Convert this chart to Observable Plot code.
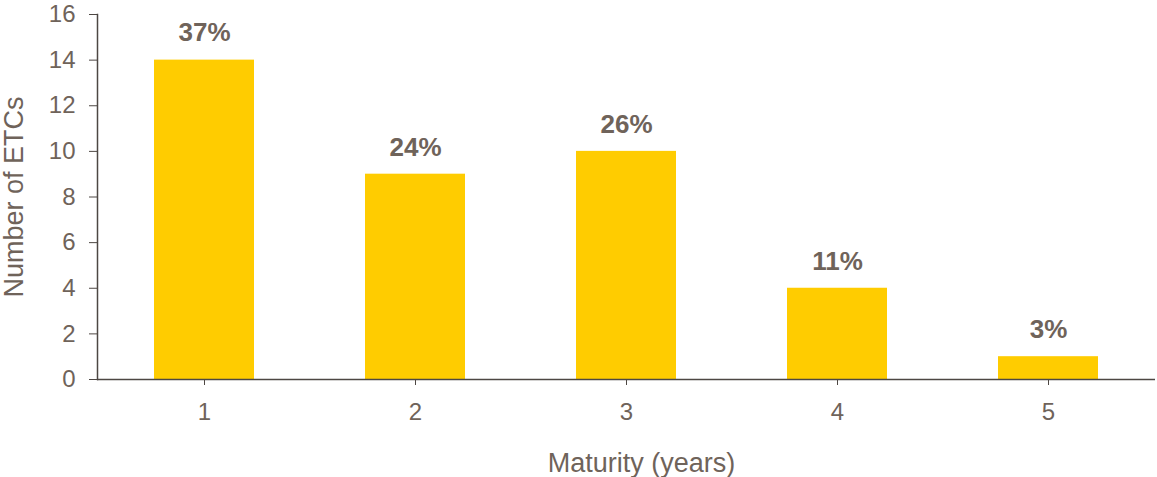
<!DOCTYPE html>
<html>
<head>
<meta charset="utf-8">
<script src="https://cdn.jsdelivr.net/npm/d3@7"></script>
<script src="https://cdn.jsdelivr.net/npm/@observablehq/plot@0.6"></script>
<style>
  html, body { margin: 0; padding: 0; background: #fff; }
</style>
</head>
<body>
<div id="chart"></div>
<script>
const maturities = [1, 2, 3, 4, 5];
const counts = [14, 9, 10, 4, 1];
const shares = ["37%", "24%", "26%", "11%", "3%"];
const yTicks = [0, 2, 4, 6, 8, 10, 12, 14, 16];
const xTitle = "Maturity (years)";
const yTitle = "Number of ETCs";

const data = maturities.map((m, i) => ({maturity: m, count: counts[i], share: shares[i]}));

const textColor = "#6f635a";
const axisColor = "#4d4743";

const chart = Plot.plot({
  width: 1157,
  height: 477,
  marginLeft: 97,
  marginRight: 2,
  marginTop: 14,
  marginBottom: 98,
  style: {fontFamily: "'Liberation Sans', Arial, sans-serif", fontSize: "24px", color: textColor, background: "#fff"},
  x: {domain: maturities, paddingInner: 0.527, paddingOuter: 0.2635, align: 0.5},
  y: {domain: [0, 16]},
  marks: [
    Plot.barY(data, {x: "maturity", y: "count", fill: "#FFCC00"}),
    Plot.text(data, {x: "maturity", y: "count", text: "share", dy: -27, fill: textColor, fontWeight: "bold", fontSize: 26}),
    Plot.ruleY([0], {stroke: axisColor, strokeWidth: 1.5}),
    Plot.axisY({ticks: yTicks, tickSize: 8, tickPadding: 14, stroke: axisColor, fill: textColor, fontSize: 24, label: null}),
    Plot.axisY({ticks: [], tickSize: 0, fill: textColor, fontSize: 27,
      label: yTitle, labelAnchor: "center", labelArrow: "none", labelOffset: 94}),
    Plot.axisX({tickSize: 6, tickPadding: 17, stroke: axisColor, fill: textColor, fontSize: 24, label: null}),
    Plot.text([xTitle], {text: d => d, frameAnchor: "bottom", lineAnchor: "middle", dx: 15, dy: 84, fill: textColor, fontSize: 27}),
    Plot.frame({anchor: "left", stroke: axisColor, strokeWidth: 1.5})
  ]
});
document.getElementById("chart").appendChild(chart);
</script>
</body>
</html>
